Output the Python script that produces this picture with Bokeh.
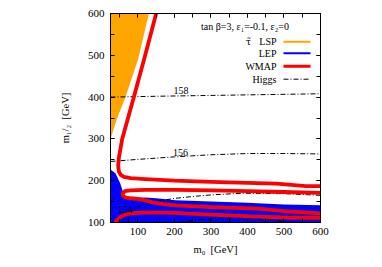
from bokeh.plotting import figure
from bokeh.models import Range1d, LinearAxis, SingleIntervalTicker, Label
from bokeh.core.properties import value
from bokeh.embed import file_html
from bokeh.resources import INLINE

FONT = "Liberation Serif"
X_MIN, X_MAX = 25, 600
Y_MIN, Y_MAX = 100, 600

# stau-LSP (orange) region: boundary x as function of m_1/2
lsp_y = [300, 349, 400, 492, 600]
lsp_x = [25, 43, 66, 101, 130]

# LEP excluded (blue) region: upper boundary
lep_x = [25, 39, 52, 61, 66, 90, 120, 150, 203, 300, 400, 500, 600]
lep_y = [227, 217, 193, 169, 158, 158, 160, 158, 153, 150, 147, 143, 141]

# WMAP strips (red)
wmap_a_x = [150, 120, 89, 57, 48, 46, 48, 53, 62, 80, 120, 200, 300, 400, 480, 520, 560, 600]
wmap_a_y = [600, 500, 400, 300, 255, 235, 222, 214, 209, 206, 204, 200, 197, 195, 193, 190, 187, 187]
wmap_b_x = [600, 500, 400, 300, 203, 120, 80, 64, 58, 60, 66, 80, 107, 140, 170, 203, 300, 427, 500, 600]
wmap_b_y = [171, 173, 175, 177, 178, 178, 177, 175, 169, 163, 160, 158, 156, 148, 144, 141, 137, 133, 127, 122]
wmap_c_x = [37, 43, 52, 65, 80, 120, 200, 300, 427, 500, 600]
wmap_c_y = [100, 106, 113, 119, 122, 124, 123, 119, 114, 112, 111]

# Higgs mass contours (dashed)
h158_x = [25, 150, 300, 450, 600]
h158_y = [400, 402, 404, 406, 408]
h156_x = [25, 100, 200, 300, 400, 500, 600]
h156_y = [246, 251, 257, 262, 265, 265, 264]
h154_x = [74, 74, 80, 100, 130, 160, 203, 260, 300, 386, 500, 600]
h154_y = [100, 122, 128, 138, 146, 152, 158, 163, 166, 170, 169, 165]
h153_x = [210, 260, 320, 400, 460, 520]
h153_y = [100, 106, 111, 111, 107, 100]

higgs_label_text = ["158", "156", "154"]
higgs_label_x = [218, 217, 65]
higgs_label_y = [416, 268, 132]

legend_title = "tan β=3, ε₁=-0.1, ε₂=0"
legend_labels = ["τ̃ LSP", "LEP", "WMAP", "Higgs"]
legend_colors = ["#FFA500", "#0000FF", "#FF0000", "black"]
legend_widths = [2, 2, 3, 1]
legend_dash = ["solid", "solid", "solid", "5 2 1 2"]

HDASH = "5 2 1 2"
NB = "\u00a0"

FR_L, FR_T, FR_W, FR_H = 110, 13, 210, 209


def px_x(px):
    return X_MIN + (px - FR_L) * (X_MAX - X_MIN) / float(FR_W)


def px_y(py):
    return Y_MAX - (py - FR_T) * (Y_MAX - Y_MIN) / float(FR_H)


p = figure(frame_width=FR_W, frame_height=FR_H,
           x_range=Range1d(X_MIN, X_MAX), y_range=Range1d(Y_MIN, Y_MAX),
           min_border_left=FR_L, min_border_right=50, min_border_top=FR_T, min_border_bottom=37,
           output_backend="svg", toolbar_location=None,
           x_axis_label="m₀" + NB + NB + "[GeV]", y_axis_label="m₁/₂" + NB + NB + "[GeV]")
p.grid.visible = False
p.outline_line_color = "black"
p.background_fill_color = "white"
p.border_fill_color = "white"

p.xaxis[0].ticker = SingleIntervalTicker(interval=100, num_minor_ticks=2)
p.yaxis[0].ticker = SingleIntervalTicker(interval=100, num_minor_ticks=2)

for ax in [p.xaxis[0], p.yaxis[0]]:
    ax.major_tick_in = 4
    ax.major_tick_out = 0
    ax.minor_tick_in = 4
    ax.minor_tick_out = 0
    ax.major_label_text_font = FONT
    ax.major_label_text_font_size = "11px"
    ax.major_label_text_color = "black"
    ax.axis_label_text_font = FONT
    ax.axis_label_text_font_style = "normal"
    ax.axis_label_text_font_size = "10.5px"
    ax.axis_label_text_color = "black"
    ax.axis_line_color = "black"
    ax.major_tick_line_color = "black"
    ax.minor_tick_line_color = "black"
p.yaxis[0].major_label_standoff = 6
p.yaxis[0].axis_label_standoff = 14
p.xaxis[0].major_label_standoff = 5
p.xaxis[0].axis_label_standoff = 6

for loc in ["above", "right"]:
    ax = LinearAxis(ticker=SingleIntervalTicker(interval=100, num_minor_ticks=2),
                    major_label_text_font_size="1px", major_label_text_color=None,
                    major_label_standoff=0,
                    major_tick_in=4, major_tick_out=0, minor_tick_in=4, minor_tick_out=0)
    p.add_layout(ax, loc)

# regions
p.varea(x=lep_x, y1=[Y_MIN] * len(lep_x), y2=lep_y, fill_color="#0000FF")
p.harea(y=lsp_y, x1=[X_MIN] * len(lsp_y), x2=lsp_x, fill_color="#FFA500")

# Higgs contours
for xs, ys in [(h158_x, h158_y), (h156_x, h156_y), (h154_x, h154_y), (h153_x, h153_y)]:
    p.line(xs, ys, line_color="black", line_width=1, line_dash=HDASH)

# WMAP strips
for xs, ys in [(wmap_a_x, wmap_a_y), (wmap_b_x, wmap_b_y), (wmap_c_x, wmap_c_y)]:
    p.line(xs, ys, line_color="#FF0000", line_width=3.8, line_join="round")

p.text(x=higgs_label_x, y=higgs_label_y, text=higgs_label_text,
       text_font=value(FONT), text_font_size="10px", text_align="center",
       text_baseline="middle", text_color="black")

# key
p.add_layout(Label(x=px_x(200.5), y=px_y(26), text=legend_title, text_font=FONT,
                   text_font_size="10px", text_align="left", text_baseline="middle",
                   text_color="black"))
rows = [41.3, 52.7, 65.7, 78.7]
for lab, col, w, d, py in zip(legend_labels, legend_colors, legend_widths, legend_dash, rows):
    parts = lab.split(" ")
    if len(parts) == 2:
        # symbol with combining tilde drawn separately for clean mark placement
        p.add_layout(Label(x=px_x(248), y=px_y(py), text=parts[0], text_font="DejaVu Serif",
                           text_font_size="9.5px", text_align="center", text_baseline="middle",
                           text_color="black"))
        lab = parts[1]
    p.add_layout(Label(x=px_x(276), y=px_y(py), text=lab, text_font=FONT,
                       text_font_size="10px", text_align="right", text_baseline="middle",
                       text_color="black"))
    p.line([px_x(283), px_x(310)], [px_y(py), px_y(py)], line_color=col, line_width=w,
           line_dash=d)

open("out.html", "w").write(file_html(p, INLINE))
